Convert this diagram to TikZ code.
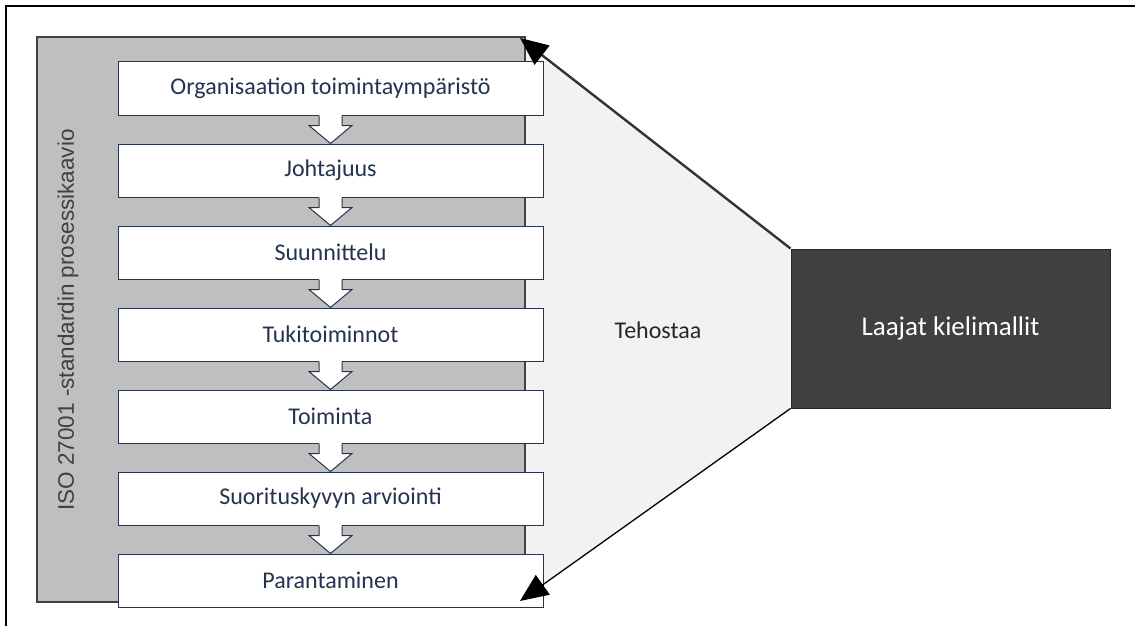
\documentclass[tikz,border=0pt]{standalone}
\usepackage{fontspec}
\setmainfont{Carlito}
\newfontfamily\arialf{Liberation Sans}
\usetikzlibrary{arrows.meta,calc,backgrounds}
\definecolor{navy}{HTML}{243350}
\definecolor{midgray}{HTML}{BFBFBF}
\definecolor{lightfill}{HTML}{F2F2F2}
\definecolor{darkbox}{HTML}{404040}
\definecolor{linegray}{HTML}{333333}
\tikzset{
  stepbox/.style={draw=navy, line width=1pt, fill=white, minimum width=425pt, minimum height=53pt,
    inner sep=0pt, text=navy, font=\fontsize{24}{28}\selectfont},
  isobox/.style={draw=darkbox, line width=1.2pt, fill=midgray, minimum width=488pt, minimum height=565pt, inner sep=0pt},
  isolabel/.style={rotate=90, text=darkbox, font=\arialf\fontsize{22.5}{26}\selectfont},
  llmbox/.style={draw=black!85, line width=1pt, fill=darkbox, minimum width=319pt, minimum height=159pt,
    inner sep=0pt, text=white, font=\fontsize{27}{31}\selectfont},
  flowarrow/.style={draw=navy, line width=1pt, fill=white, line join=miter},
  bigtip/.style={-{Triangle[length=28pt,width=24pt,black]}},
  plainlabel/.style={text=black!85, font=\fontsize{24}{28}\selectfont}
}
\begin{document}
\begin{tikzpicture}[x=1pt,y=-1pt]
\useasboundingbox (0,0) rectangle (1135,626);
% outer frame (only left and top edges visible)
\draw[line width=1.6pt, black] (6,626) -- (6,6) -- (1135,6);

% dark box
\node[llmbox] (llm) at (950.5,328.5) {Laajat kielimallit};
\coordinate (ttop) at (520,38);
\coordinate (tbot) at (520,601);

\begin{scope}[on background layer]
  \fill[lightfill] (ttop) -- (llm.north west) -- (llm.south west) -- (tbot) -- (400,601) -- (400,38) -- cycle;
  \node[isobox] (iso) at (281,319.5) {};
\end{scope}
\node[isolabel] (isot) at (68,320) {ISO 27001 -standardin prosessikaavio};

% steps
\node[stepbox] (b1) at (330.5, 88.5) {Organisaation toimintaympäristö};
\node[stepbox] (b2) at (330.5,170.5) {Johtajuus};
\node[stepbox] (b3) at (330.5,252.5) {Suunnittelu};
\node[stepbox] (b4) at (330.5,334.5) {Tukitoiminnot};
\node[stepbox] (b5) at (330.5,416.5) {Toiminta};
\node[stepbox] (b6) at (330.5,498.5) {Suorituskyvyn arviointi};
\node[stepbox] (b7) at (330.5,580.5) {Parantaminen};

\foreach \i/\j in {1/2,2/3,3/4,4/5,5/6,6/7}{
  \fill[white] ($(b\i.south)+(-11.5,-1)$) rectangle ($(b\i.south)+(11.5,10)$);
  \filldraw[flowarrow] ($(b\i.south)+(-11.5,0)$) -- ++(0,10) -- ++(-10,0) -- (b\j.north)
     -- ($(b\i.south)+(21.5,10)$) -- ++(-10,0) -- ++(0,-10);
}

% label
\node[plainlabel] (teh) at (658,330) {Tehostaa};

% arrows
\draw[bigtip, line width=2.4pt, draw=linegray] (llm.north west) -- (ttop);
\draw[bigtip, line width=1.3pt, draw=black] (llm.south west) -- (tbot);
\end{tikzpicture}
\end{document}
